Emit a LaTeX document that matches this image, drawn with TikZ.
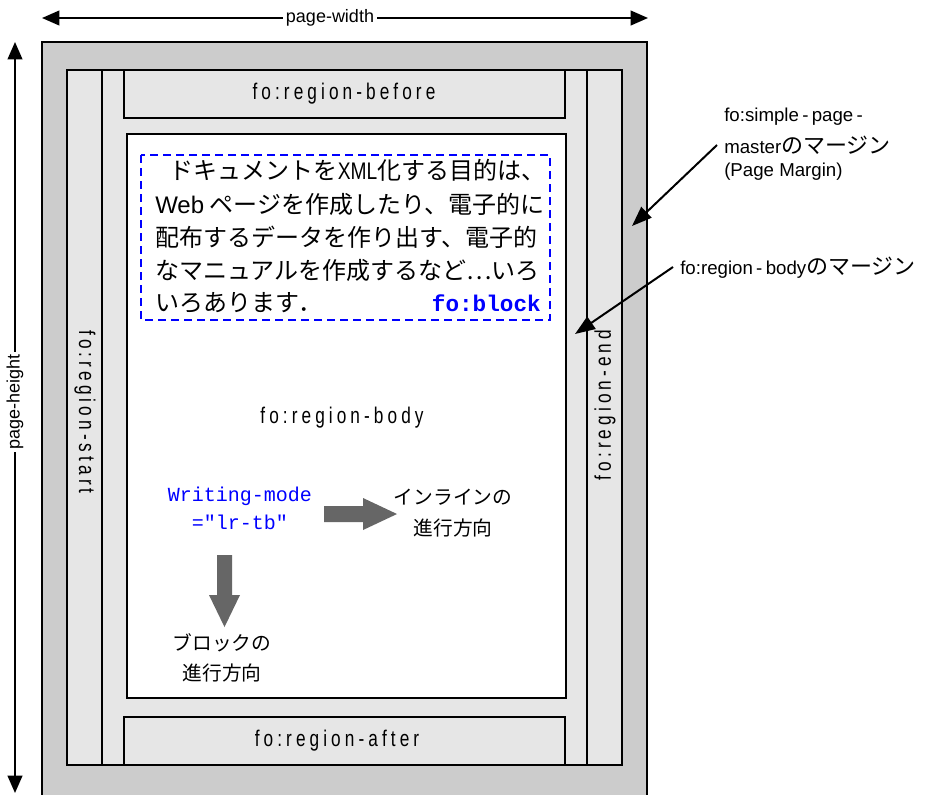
\documentclass[tikz,border=0pt]{standalone}
\usepackage{fontspec}
\setmainfont{Liberation Sans}
\setmonofont{Liberation Mono}
\newfontfamily\jpfont{Noto Sans CJK JP}
\newfontfamily\regfont[FakeStretch=0.76,LetterSpace=18]{Liberation Sans}
\newfontfamily\narrowlatin[FakeStretch=0.8]{Liberation Sans}
\usetikzlibrary{arrows.meta}
\definecolor{margingray}{HTML}{CCCCCC}
\definecolor{regiongray}{HTML}{E6E6E6}
\definecolor{arrowgray}{HTML}{666666}
\newcommand{\hy}{\hspace{2.5pt}-\hspace{2.5pt}}
\tikzset{
  box/.style={draw=black, line width=1.5pt},
  reglabel/.style={font=\regfont\fontsize{17}{20}\selectfont, inner sep=1pt},
  blockline/.style={font=\jpfont\fontsize{18}{22}\selectfont, anchor=base west, inner sep=0pt},
  jplabel/.style={font=\jpfont\fontsize{14.8}{18}\selectfont, inner sep=0pt},
  annlabel/.style={font=\fontsize{14}{17}\selectfont, anchor=west, inner sep=0pt},
  dimlabel/.style={font=\fontsize{13.5}{15}\selectfont, fill=white, inner sep=2pt},
  dimarrow/.style={line width=1.5pt, {Triangle[length=13pt,width=11pt]}-{Triangle[length=13pt,width=11pt]}},
  annarrow/.style={line width=1.5pt, -{Triangle[length=15pt,width=11pt]}},
  bigarrow/.style={fill=arrowgray, draw=none},
  modelabel/.style={font=\ttfamily\fontsize{15}{18}\selectfont, text=blue, inner sep=0pt}
}
\begin{document}
\begin{tikzpicture}[x=0.75pt,y=-0.75pt]
\useasboundingbox (0,0) rectangle (937,794);
% page (margin area)
\path[box, fill=margingray] (42,42) rectangle (647,830);
% region area
\path[box, fill=regiongray] (67,70) rectangle (622,765);
\draw[line width=1.5pt] (102,70) -- (102,765);
\draw[line width=1.5pt] (587,70) -- (587,765);
\path[box, fill=regiongray] (124,70) rectangle (565,118);
\path[box, fill=regiongray] (124,717) rectangle (565,765);
% body
\path[box, fill=white] (127,134) rectangle (566,698);
% fo:block
\draw[blue, line width=1.5pt, dash pattern=on 6pt off 3.75pt] (141,155) rectangle (550,320);

% region labels
\node[reglabel] (before) at (344,94) {fo:region-before};
\node[reglabel] (after) at (337,741) {fo:region-after};
\node[reglabel] (body) at (342,418) {fo:region-body};
\node[reglabel, rotate=-90] (start) at (85,412) {fo:region-start};
\node[reglabel, rotate=90] (end) at (605,405) {fo:region-end};

% block text
\node[blockline] (bl1) at (155,179) {\hspace{11pt}ドキュメントを{\narrowlatin XML}化する目的は、};
\node[blockline] (bl2) at (155,213) {{\rmfamily Web} ページを作成したり、電子的に};
\node[blockline] (bl3) at (155,246) {配布するデータを作り出す、電子的};
\node[blockline] (bl4) at (155,279) {なマニュアルを作成するなど…いろ};
\node[blockline] (bl5) at (155,311) {いろあります．};
\node[font=\ttfamily\bfseries\fontsize{17}{20}\selectfont, text=blue, anchor=base east, inner sep=0pt] (blk) at (541,311) {fo:block};

% writing mode
\node[modelabel] (wm1) at (240,496) {Writing-mode};
\node[modelabel] (wm2) at (240,522) {="lr-tb"};
\path[bigarrow] (324,506) -- (363,506) -- (363,498) -- (397,514) -- (363,530) -- (363,522) -- (324,522) -- cycle;
\path[bigarrow] (217,555) -- (232,555) -- (232,595) -- (240,595) -- (224.5,627) -- (209,595) -- (217,595) -- cycle;
\node[jplabel] (inl1) at (453,497) {インラインの};
\node[jplabel] (inl2) at (453,528) {進行方向};
\node[jplabel] (blk1) at (222,643) {ブロックの};
\node[jplabel] (blk2) at (222,673) {進行方向};

% annotations
\node[annlabel] (spm1) at (724,117) {fo:simple\hy page\hy};
\node[annlabel] (spm2) at (724,145) {master{\jpfont\fontsize{16.5}{17}\selectfont のマージン}};
\node[annlabel] (spm3) at (724,172) {(Page Margin)};
\node[annlabel] (rbm) at (680,268) {fo:region\hy body{\jpfont\fontsize{16.5}{17}\selectfont のマージン}};
\coordinate (a1s) at (717,145);
\coordinate (a1e) at (632,226);
\coordinate (a2s) at (673,267);
\coordinate (a2e) at (575,334);
\draw[annarrow] (a1s) -- (a1e);
\draw[annarrow] (a2s) -- (a2e);

% dimensions
\coordinate (pwl) at (42,18);
\coordinate (pwr) at (648,18);
\draw[dimarrow] (pwl) -- (pwr);
\node[dimlabel] (pw) at (330,18) {page-width};
\coordinate (pht) at (15,42);
\coordinate (phb) at (15,793);
\draw[dimarrow] (pht) -- (phb);
\node[dimlabel, rotate=90] (ph) at (15,402) {page-height};
\end{tikzpicture}
\end{document}
